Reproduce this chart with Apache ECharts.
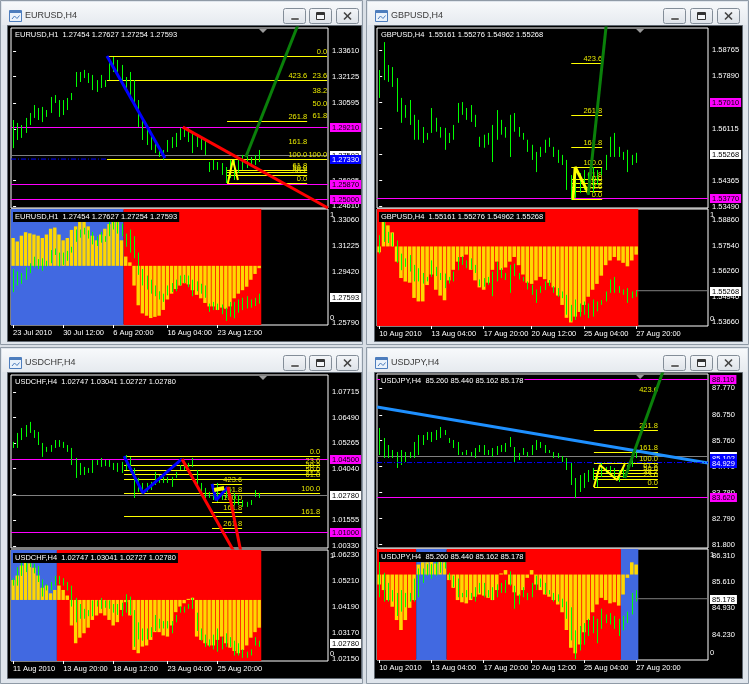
<!DOCTYPE html>
<html>
<head>
<meta charset="utf-8">
<script src="https://cdn.jsdelivr.net/npm/echarts@6/dist/echarts.min.js"></script>
<style>
html,body{margin:0;padding:0;background:#d9dfe6;overflow:hidden;}
#chart{width:749px;height:684px;}
</style>
</head>
<body>
<div id="chart"></div>
<script>
// ================= DATA =================
// ---- EURUSD ----
const EUR_HIGH = [1.2960,1.2943,1.2931,1.2972,1.3001,1.3047,1.3030,1.3036,1.3018,1.3094,
 1.3105,1.3076,1.3076,1.3088,1.3117,1.3239,1.3239,1.3251,1.3233,1.3222,
 1.3192,1.3222,1.3192,1.3309,1.3326,1.3309,1.3280,1.3210,1.3239,1.3192,
 1.3076,1.2960,1.2914,1.2885,1.2844,1.2803,1.2786,1.2844,1.2861,1.2885,
 1.2914,1.2919,1.2914,1.2885,1.2873,1.2856,1.2844,1.2716,1.2728,1.2716,
 1.2710,1.2687,1.2728,1.2728,1.2745,1.2757,1.2768,1.2745,1.2757,1.2786];
const EUR_LOW = [1.2797,1.2844,1.2856,1.2885,1.2931,1.2972,1.2960,1.2948,1.2978,1.3001,
 1.3059,1.2978,1.2989,1.3018,1.3076,1.3152,1.3181,1.3204,1.3175,1.3134,
 1.3123,1.3146,1.3152,1.3192,1.3239,1.3210,1.3192,1.3117,1.3076,1.3036,
 1.2919,1.2844,1.2815,1.2786,1.2768,1.2745,1.2728,1.2774,1.2797,1.2803,
 1.2844,1.2861,1.2832,1.2768,1.2803,1.2786,1.2757,1.2658,1.2670,1.2670,
 1.2641,1.2594,1.2623,1.2612,1.2652,1.2670,1.2681,1.2687,1.2699,1.2716];
const EUR_OSC = [0.75,0.72,0.77,0.80,0.79,0.78,0.77,0.75,0.78,0.83,
 0.84,0.78,0.73,0.75,0.82,0.85,0.89,0.91,0.85,0.77,
 0.73,0.78,0.83,0.87,0.89,0.89,0.73,0.59,0.54,0.34,
 0.17,0.10,0.08,0.06,0.07,0.08,0.13,0.22,0.27,0.31,
 0.34,0.36,0.35,0.30,0.26,0.23,0.19,0.16,0.16,0.13,
 0.15,0.14,0.16,0.23,0.27,0.30,0.33,0.39,0.44,0.49];
const EUR_OSC_MID = 0.51;
const EUR_REGIME = [[0,26,'B'],[27,59,'R']];
const EUR_TICKS = [1.33610,1.32125,1.30595,1.29080,1.27580,1.26085,1.24610];
const EUR_LOW_TICKS = [1.33060,1.31225,1.29420,1.27605,1.25790];
const EUR_XLABELS = ['23 Jul 2010','30 Jul 12:00','6 Aug 20:00','16 Aug 04:00','23 Aug 12:00'];
const EUR_XLABEL_IDX = [0,12,24,37,49];
const EUR_FIB = [
 [1.3332,22.5,75.3,'0.0',1],[1.3192,22.5,75.3,'23.6',1],[1.3192,51.3,70.5,'423.6',0],
 [1.3105,70.7,75.3,'38.2',0],[1.3030,70.7,75.3,'50.0',0],[1.2960,70.7,75.3,'61.8',0],
 [1.2954,51.3,70.5,'261.8',1],[1.2809,51.3,70.5,'161.8',0],
 [1.2734,22.5,75.3,'100.0',1],[1.2734,51.3,70.5,'100.0',0],
 [1.2670,51.3,70.5,'61.8',1],[1.2658,51.3,70.5,'50.0',1],[1.2641,51.3,70.5,'38.2',1],[1.2594,51.3,70.5,'0.0',1]];
const EUR_LEVELS = [1.29210,1.25870,1.25000];
const EUR_CLOSE = 1.27593;
const EUR_BLUE_TAGS = [1.27330];
const EUR_BLUE_DASH = [[-0.5,1.2733],[22.5,1.2733]];
const EUR_BLUE_TREND = [[22.5,1.3332],[36.4,1.2739]];
const EUR_RED_TREND = [[40.7,1.2919],[75.5,1.2449]];
const EUR_YELLOW_SWING = [[51.5,1.2594],[52.7,1.2728],[53.9,1.2612]];
const EUR_GREEN_TREND = [[55.8,1.2745],[69.7,1.3599]];

// ---- GBPUSD ----
const GBP_HIGH = [1.5809,1.5903,1.5826,1.5819,1.5782,1.5715,1.5691,1.5708,1.5658,1.5641,
 1.5617,1.5597,1.5681,1.5648,1.5617,1.5614,1.5597,1.5624,1.5698,1.5701,
 1.5681,1.5691,1.5658,1.5584,1.5591,1.5597,1.5624,1.5674,1.5641,1.5617,
 1.5658,1.5664,1.5617,1.5597,1.5574,1.5557,1.5533,1.5550,1.5574,1.5581,
 1.5550,1.5540,1.5523,1.5506,1.5455,1.5482,1.5462,1.5472,1.5462,1.5482,
 1.5472,1.5479,1.5523,1.5584,1.5597,1.5550,1.5533,1.5540,1.5523,1.5530];
const GBP_LOW = [1.5715,1.5775,1.5769,1.5752,1.5668,1.5631,1.5648,1.5624,1.5574,1.5574,
 1.5563,1.5574,1.5597,1.5601,1.5581,1.5540,1.5563,1.5574,1.5631,1.5658,
 1.5641,1.5634,1.5617,1.5550,1.5547,1.5557,1.5499,1.5574,1.5591,1.5581,
 1.5516,1.5601,1.5584,1.5574,1.5533,1.5506,1.5465,1.5516,1.5530,1.5550,
 1.5516,1.5496,1.5489,1.5405,1.5371,1.5378,1.5395,1.5405,1.5388,1.5395,
 1.5422,1.5455,1.5472,1.5516,1.5516,1.5516,1.5506,1.5465,1.5489,1.5496];
const GBP_OSC = [0.63,0.89,0.86,0.80,0.55,0.41,0.38,0.37,0.24,0.21,
 0.21,0.35,0.44,0.31,0.26,0.22,0.39,0.48,0.55,0.59,
 0.61,0.48,0.39,0.33,0.31,0.37,0.48,0.55,0.48,0.50,
 0.55,0.59,0.52,0.44,0.37,0.36,0.39,0.42,0.40,0.37,
 0.33,0.26,0.18,0.07,0.03,0.08,0.12,0.18,0.25,0.31,
 0.36,0.43,0.52,0.56,0.59,0.56,0.54,0.51,0.56,0.61];
const GBP_OSC_MID = 0.68;
const GBP_REGIME = [[0,59,'R']];
const GBP_TICKS = [1.58765,1.57890,1.57015,1.56115,1.55240,1.54365,1.53490];
const GBP_LOW_TICKS = [1.58860,1.57540,1.56260,1.54940,1.53660];
const GBP_XLABELS = ['10 Aug 2010','13 Aug 04:00','17 Aug 20:00','20 Aug 12:00','25 Aug 04:00','27 Aug 20:00'];
const GBP_XLABEL_IDX = [0,12,24,35,47,59];
const GBP_FIB = [
 [1.5831,44.1,51.2,'423.6',1],[1.5657,44.1,51.2,'261.8',1],[1.5550,44.1,51.2,'161.8',1],
 [1.5482,44.1,51.2,'100.0',1],[1.5441,44.1,51.2,'61.8',1],[1.5428,44.1,51.2,'50.0',1],
 [1.5415,44.1,51.2,'38.2',1],[1.5400,44.1,51.2,'23.6',1],[1.5374,44.1,51.2,'0.0',1]];
const GBP_LEVELS = [1.53770];
const GBP_TAG_ONLY = [1.57010];
const GBP_CLOSE = 1.55268;
const GBP_YELLOW_SWING = [[44.5,1.5374],[45.0,1.5482],[48.0,1.5395]];
const GBP_GREEN_TREND = [[48.0,1.5388],[52.5,1.6011]];

// ---- USDCHF ----
const CHF_HIGH = [1.0532,1.0575,1.0599,1.0613,1.0628,1.0589,1.0580,1.0527,1.0508,1.0517,
 1.0541,1.0541,1.0532,1.0517,1.0503,1.0455,1.0431,1.0412,1.0407,1.0445,
 1.0445,1.0455,1.0445,1.0445,1.0431,1.0431,1.0436,1.0469,1.0460,1.0407,
 1.0359,1.0335,1.0335,1.0340,1.0388,1.0373,1.0364,1.0364,1.0364,1.0388,
 1.0421,1.0421,1.0431,1.0455,1.0397,1.0335,1.0311,1.0292,1.0311,1.0335,
 1.0301,1.0316,1.0301,1.0287,1.0277,1.0253,1.0244,1.0253,1.0301,1.0287];
const CHF_LOW = [1.0503,1.0503,1.0541,1.0556,1.0575,1.0551,1.0517,1.0460,1.0484,1.0484,
 1.0503,1.0508,1.0503,1.0484,1.0421,1.0359,1.0373,1.0373,1.0383,1.0383,
 1.0421,1.0412,1.0416,1.0412,1.0397,1.0388,1.0383,1.0397,1.0388,1.0263,
 1.0292,1.0287,1.0292,1.0301,1.0325,1.0335,1.0335,1.0335,1.0316,1.0359,
 1.0397,1.0397,1.0412,1.0412,1.0325,1.0287,1.0263,1.0263,1.0253,1.0244,
 1.0253,1.0263,1.0263,1.0229,1.0229,1.0220,1.0220,1.0229,1.0268,1.0263];
const CHF_OSC = [0.73,0.77,0.86,0.89,0.88,0.84,0.77,0.66,0.68,0.61,
 0.64,0.68,0.64,0.59,0.32,0.16,0.21,0.25,0.30,0.37,
 0.41,0.43,0.41,0.37,0.32,0.35,0.46,0.53,0.41,0.10,
 0.07,0.13,0.14,0.19,0.26,0.26,0.23,0.22,0.32,0.44,
 0.49,0.52,0.56,0.57,0.22,0.19,0.16,0.14,0.14,0.19,
 0.22,0.16,0.12,0.09,0.07,0.10,0.14,0.21,0.26,0.30];
const CHF_OSC_MID = 0.55;
const CHF_REGIME = [[0,10,'B'],[11,59,'R']];
const CHF_TICKS = [1.07715,1.06490,1.05265,1.04040,1.02815,1.01555,1.00330];
const CHF_LOW_TICKS = [1.06230,1.05210,1.04190,1.03170,1.02150];
const CHF_XLABELS = ['11 Aug 2010','13 Aug 20:00','18 Aug 12:00','23 Aug 04:00','25 Aug 20:00'];
const CHF_XLABEL_IDX = [0,12,24,37,49];
const CHF_FIB = [
 [1.0464,26.6,73.6,'0.0',1],[1.0423,26.6,73.6,'23.6',1],[1.0397,26.6,73.6,'38.2',1],
 [1.0376,26.6,73.6,'50.0',1],[1.0354,26.6,73.6,'61.8',1],[1.0287,26.6,73.6,'100.0',1],
 [1.0176,26.6,73.6,'161.8',1],
 [1.0330,47.7,54.9,'423.6',1],[1.0282,47.7,54.9,'61.8',0],[1.0244,47.7,54.9,'100.0',1],
 [1.0196,47.7,54.9,'161.8',1],[1.0119,47.7,54.9,'261.8',1]];
const CHF_LEVELS = [1.04500,1.01000];
const CHF_CLOSE = 1.02780;
const CHF_BLUE_SWING_A = [[26.6,1.0464],[31.1,1.0287],[40.5,1.0450]];
const CHF_BLUE_SWING_B = [[47.7,1.0330],[48.7,1.0253],[51.5,1.0316]];
const CHF_YELLOW_SWING = [[48.2,1.0301],[50.6,1.0311]];
const CHF_RED_TREND_A = [[40.5,1.0450],[54.1,0.9965]];
const CHF_RED_TREND_B = [[51.5,1.0316],[55.0,0.9965]];

// ---- USDJPY ----
const JPY_HIGH = [86.246,85.865,85.598,85.408,85.332,85.408,85.332,85.332,85.713,85.979,
 85.979,86.094,86.094,86.170,86.284,86.170,85.865,85.789,85.713,85.332,
 85.408,85.332,85.484,85.598,85.598,85.408,85.484,85.560,85.598,85.675,
 85.903,85.522,85.294,85.484,85.332,85.598,85.789,85.713,85.598,85.408,
 85.332,85.294,85.179,85.103,84.951,84.341,84.455,84.532,84.646,84.722,
 84.646,84.913,84.760,84.798,84.722,84.646,84.722,84.836,85.332,85.408];
const JPY_LOW = [85.217,85.103,85.103,85.103,84.722,84.836,84.951,85.103,85.103,85.217,
 85.598,85.789,85.713,85.789,85.865,85.979,85.675,85.484,85.217,85.217,
 85.217,85.179,85.103,85.332,85.217,85.217,85.141,85.217,85.332,85.332,
 85.522,84.913,85.027,85.217,85.141,85.217,85.408,85.484,85.294,85.294,
 85.103,85.103,84.951,84.646,84.074,83.579,83.808,83.960,84.189,84.265,
 83.998,84.379,84.532,84.494,84.379,84.189,84.341,84.532,84.760,85.103];
const JPY_OSC = [0.68,0.63,0.54,0.48,0.36,0.27,0.36,0.47,0.54,0.86,
 0.88,0.88,0.90,0.87,0.92,0.88,0.72,0.65,0.54,0.52,
 0.51,0.54,0.57,0.59,0.58,0.56,0.54,0.63,0.78,0.81,
 0.68,0.61,0.58,0.63,0.74,0.81,0.68,0.63,0.59,0.57,
 0.54,0.50,0.43,0.27,0.11,0.06,0.14,0.25,0.36,0.43,
 0.50,0.56,0.54,0.51,0.52,0.49,0.59,0.74,0.88,0.86];
const JPY_OSC_MID = 0.77;
const JPY_REGIME = [[0,8,'R'],[9,15,'B'],[16,55,'R'],[56,59,'B']];
const JPY_TICKS = [87.770,86.750,85.760,84.770,83.780,82.790,81.800];
const JPY_LOW_TICKS = [86.310,85.610,84.930,84.230,83.550];
const JPY_XLABELS = ['10 Aug 2010','13 Aug 04:00','17 Aug 20:00','20 Aug 12:00','25 Aug 04:00','27 Aug 20:00'];
const JPY_XLABEL_IDX = [0,12,24,35,47,59];
const JPY_FIB = [
 [87.541,49.3,64.0,'423.6',0],[86.170,49.3,64.0,'261.8',1],[85.332,49.3,64.0,'161.8',1],
 [84.913,49.3,64.0,'100.0',1],[84.646,49.3,64.0,'61.8',1],[84.532,49.3,64.0,'50.0',1],
 [84.417,49.3,64.0,'38.2',1],[84.303,49.3,64.0,'23.6',1],[83.998,49.3,64.0,'0.0',1]];
const JPY_LEVELS = [88.110,83.620];
const JPY_CLOSE = 85.178;
const JPY_BLUE_TAGS = [85.102,84.929];
const JPY_BLUE_DASH = [[-0.5,84.929],[75.5,84.929]];
const JPY_BLUE_TREND = [[-0.5,87.046],[75.5,84.913]];
const JPY_YELLOW_SWING = [[49.3,83.998],[50.7,84.836],[54.6,84.265],[56.4,84.875]];
const JPY_GREEN_TREND = [[56.4,84.341],[66.1,88.837]];

// ================= LAYOUT / STYLE =================
const FONT = '"Liberation Sans", Arial, sans-serif';
const FS = 7.5;
const SLOTS = 76;
const GRIDS = [
 {left:11, top:28, width:317, height:180},
 {left:11, top:209, width:317, height:116},
 {left:377, top:28, width:331, height:180},
 {left:377, top:209, width:331, height:117},
 {left:11, top:375, width:317, height:173},
 {left:11, top:550, width:317, height:111},
 {left:377, top:374, width:331, height:174},
 {left:377, top:549, width:331, height:111}
];
const WINDOWS = [
 {x:0, y:0, w:363, h:345, title:'EURUSD,H4', btn:[283,309,336], area:[8,26,353,315]},
 {x:366, y:0, w:383, h:345, title:'GBPUSD,H4', btn:[663,690,717], area:[375,26,367,315]},
 {x:0, y:347, w:363, h:337, title:'USDCHF,H4', btn:[283,309,336], area:[8,373,353,305]},
 {x:366, y:347, w:383, h:337, title:'USDJPY,H4', btn:[663,690,717], area:[375,373,367,305]}
];

const CH = [
 {high:EUR_HIGH, low:EUR_LOW, osc:EUR_OSC, mid:EUR_OSC_MID, regime:EUR_REGIME, ticks:EUR_TICKS, lowTicks:EUR_LOW_TICKS,
  d:5, mainRange:[1.24488,1.34946], lowRange:[1.25649,1.33838], xl:EUR_XLABELS, xi:EUR_XLABEL_IDX, fib:EUR_FIB,
  levels:EUR_LEVELS, tagOnly:[], close:EUR_CLOSE, blueTags:EUR_BLUE_TAGS, bid:true, lowBid:false,
  header:'EURUSD,H1  1.27454 1.27627 1.27254 1.27593',
  lines:[{pts:EUR_BLUE_DASH,c:'#0000ff',w:1,dash:[5,2,1,2]},{pts:EUR_BLUE_TREND,c:'#0000ff',w:3},{pts:EUR_RED_TREND,c:'#ff0000',w:3},
         {pts:EUR_YELLOW_SWING,c:'#ffff00',w:2},{pts:EUR_GREEN_TREND,c:'#0a800a',w:3}]},
 {high:GBP_HIGH, low:GBP_LOW, osc:GBP_OSC, mid:GBP_OSC_MID, regime:GBP_REGIME, ticks:GBP_TICKS, lowTicks:GBP_LOW_TICKS,
  d:5, mainRange:[1.53440,1.59506], lowRange:[1.53475,1.59419], xl:GBP_XLABELS, xi:GBP_XLABEL_IDX, fib:GBP_FIB,
  levels:GBP_LEVELS, tagOnly:GBP_TAG_ONLY, close:GBP_CLOSE, blueTags:[], bid:false, lowBid:true,
  header:'GBPUSD,H4  1.55161 1.55276 1.54962 1.55268',
  lines:[{pts:GBP_YELLOW_SWING,c:'#ffff00',w:3},{pts:GBP_GREEN_TREND,c:'#0a800a',w:3}]},
 {high:CHF_HIGH, low:CHF_LOW, osc:CHF_OSC, mid:CHF_OSC_MID, regime:CHF_REGIME, ticks:CHF_TICKS, lowTicks:CHF_LOW_TICKS,
  d:5, mainRange:[1.00227,1.08531], lowRange:[1.02075,1.06426], xl:CHF_XLABELS, xi:CHF_XLABEL_IDX, fib:CHF_FIB,
  levels:CHF_LEVELS, tagOnly:[], close:CHF_CLOSE, blueTags:[], bid:true, lowBid:false,
  header:'USDCHF,H4  1.02747 1.03041 1.02727 1.02780',
  lines:[{pts:CHF_BLUE_SWING_A,c:'#0000ff',w:3},{pts:CHF_BLUE_SWING_B,c:'#0000ff',w:3},{pts:CHF_YELLOW_SWING,c:'#ffff00',w:4},
         {pts:CHF_RED_TREND_A,c:'#ff0000',w:3},{pts:CHF_RED_TREND_B,c:'#ff0000',w:3}]},
 {high:JPY_HIGH, low:JPY_LOW, osc:JPY_OSC, mid:JPY_OSC_MID, regime:JPY_REGIME, ticks:JPY_TICKS, lowTicks:JPY_LOW_TICKS,
  d:3, mainRange:[81.674,88.303], lowRange:[83.554,86.496], xl:JPY_XLABELS, xi:JPY_XLABEL_IDX, fib:JPY_FIB,
  levels:JPY_LEVELS, tagOnly:[], close:JPY_CLOSE, blueTags:JPY_BLUE_TAGS, bid:true, lowBid:true,
  header:'USDJPY,H4  85.260 85.440 85.162 85.178',
  lines:[{pts:JPY_BLUE_TREND,c:'#1e90ff',w:3},{pts:JPY_BLUE_DASH,c:'#0000ff',w:1,dash:[5,2,1,2]},
         {pts:JPY_YELLOW_SWING,c:'#ffff00',w:2},{pts:JPY_GREEN_TREND,c:'#0a800a',w:3}]}
];

// ================= BUILDERS =================
function xAxis(g, ch) {
  const a = {type:'value', gridIndex:g, min:-0.5, max:SLOTS-0.5, splitLine:{show:false}, axisLine:{show:false}};
  if (!ch) { a.axisLabel = {show:false}; a.axisTick = {show:false}; return a; }
  a.axisTick = {show:true, customValues:ch.xi, length:3, lineStyle:{color:'#fff'}};
  a.axisLabel = {show:true, customValues:ch.xi, color:'#fff', fontSize:FS, fontFamily:FONT, align:'left', margin:4,
    formatter: v => { const k = ch.xi.indexOf(Math.round(v)); return k >= 0 ? ch.xl[k] : ''; }};
  return a;
}
function priceAxis(g, range, ticks, d) {
  return {type:'value', gridIndex:g, position:'right', min:range[0], max:range[1],
    splitLine:{show:false}, axisLine:{show:false},
    axisTick:{show:true, customValues:ticks, length:3, lineStyle:{color:'#fff'}},
    axisLabel:{show:true, customValues:ticks, color:'#fff', fontSize:FS, fontFamily:FONT, margin:4,
      formatter: v => v.toFixed(d)}};
}
function oscAxis(g) {
  return {type:'value', gridIndex:g, position:'right', min:0, max:1, splitLine:{show:false}, axisLine:{show:false},
    axisTick:{show:false},
    axisLabel:{show:true, customValues:[0.06,0.95], color:'#fff', fontSize:FS, fontFamily:FONT, margin:2,
      formatter: v => v > 0.5 ? '1' : '0'}};
}
function barsSeries(g, yi, low, high, z) {
  return {type:'custom', xAxisIndex:g, yAxisIndex:yi, silent:true, animation:false, z,
    data: low.map((l,i)=>[i,l,high[i]]), encode:{x:0, y:[1,2]},
    renderItem(params, api) {
      const lo = api.coord([api.value(0), api.value(1)]), hi = api.coord([api.value(0), api.value(2)]);
      const x = Math.round(lo[0]) + 0.5;
      return {type:'line', shape:{x1:x, y1:lo[1], x2:x, y2:hi[1]}, style:{stroke:'#00ff00', lineWidth:1}};
    }};
}
function regimeSeries(g, yi, runs) {
  return {type:'custom', xAxisIndex:g, yAxisIndex:yi, silent:true, animation:false, z:1,
    data: runs.map(r => [r[0], r[1]]),
    renderItem(params, api) {
      const r = runs[params.dataIndex];
      const a = api.coord([r[0]-0.5, 1]), b = api.coord([r[1]+0.5, 0]);
      return {type:'rect', shape:{x:a[0], y:a[1], width:b[0]-a[0], height:b[1]-a[1]},
        style:{fill: r[2]==='B' ? '#4169e1' : '#ff0000'}};
    }};
}
function oscSeries(g, yi, osc, mid) {
  return {type:'custom', xAxisIndex:g, yAxisIndex:yi, silent:true, animation:false, z:2,
    data: osc.map((v,i)=>[i,v]),
    renderItem(params, api) {
      const i = api.value(0), v = api.value(1);
      const c = api.coord([i, v]), m = api.coord([i, mid]);
      const w = api.size([1,0])[0] * 0.82;
      return {type:'rect', shape:{x:c[0]-w/2, y:Math.min(c[1],m[1]), width:w, height:Math.max(1, Math.abs(c[1]-m[1]))},
        style:{fill:'#ffd700'}};
    }};
}
function fibSeries(g, yi, fibs) {
  return {type:'custom', xAxisIndex:g, yAxisIndex:yi, silent:true, animation:false, z:3,
    data: fibs.map(f => [f[1], f[0]]),
    renderItem(params, api) {
      const f = fibs[params.dataIndex];
      const a = api.coord([f[1], f[0]]), b = api.coord([f[2], f[0]]);
      const y = Math.round(a[1]) + 0.5;
      const ch = [];
      if (f[4]) ch.push({type:'line', shape:{x1:a[0], y1:y, x2:b[0], y2:y}, style:{stroke:'#ffff00', lineWidth:1}});
      ch.push({type:'text', style:{text:f[3], x:b[0], y:y-1, align:'right', verticalAlign:'bottom',
        fill:'#e8e800', font:FS + 'px ' + FONT}});
      return {type:'group', children:ch};
    }};
}
function pathSeries(g, yi, L, z) {
  return {type:'line', xAxisIndex:g, yAxisIndex:yi, data:L.pts, symbol:'none', silent:true, animation:false, z,
    clip:true, lineStyle:{color:L.c, width:L.w, type: L.dash || 'solid'}};
}
// horizontal price levels with their right-hand price tags, drawn through the axis scale
function levelSeries(g, yi, items, d, z) {
  return {type:'custom', xAxisIndex:g, yAxisIndex:yi, silent:true, animation:false, z,
    data: items.map(it => [SLOTS-0.5, it.v]),
    renderItem(params, api) {
      const it = items[params.dataIndex];
      const r = api.coord([SLOTS-0.5, it.v]), l = api.coord([-0.5, it.v]);
      const y = Math.round(r[1]) + 0.5;
      const ch = [];
      if (it.line) ch.push({type:'line', z2:0, shape:{x1:l[0], y1:y, x2:r[0], y2:y}, style:{stroke:it.line, lineWidth:1}});
      ch.push({type:'text', z2:5, style:{text:it.v.toFixed(d), x:r[0]+2, y:y, verticalAlign:'middle',
        fill:it.fg, backgroundColor:it.bg, padding:[1,2,0,2], font:FS + 'px ' + FONT}});
      return {type:'group', children:ch};
    }};
}

const xAxes = [], yAxes = [], series = [];
CH.forEach((ch, k) => {
  const gm = 2*k, gl = 2*k+1;
  xAxes[gm] = xAxis(gm, null);
  xAxes[gl] = xAxis(gl, ch);
  yAxes[gm] = priceAxis(gm, ch.mainRange, ch.ticks, ch.d);
  yAxes[gl] = priceAxis(gl, ch.lowRange, ch.lowTicks, ch.d);
  yAxes[8+k] = oscAxis(gl);
  // main pane
  const lv = [];
  ch.levels.forEach(v => lv.push({v, line:'#ff00ff', bg:'#ff00ff', fg:'#000'}));
  ch.tagOnly.forEach(v => lv.push({v, line:null, bg:'#ff00ff', fg:'#000'}));
  lv.push({v:ch.close, line: ch.bid ? '#808080' : null, bg:'#ffffff', fg:'#000'});
  ch.blueTags.forEach(v => lv.push({v, line:null, bg:'#0000ff', fg:'#fff'}));
  series.push(levelSeries(gm, gm, lv, ch.d, 2));
  series.push(fibSeries(gm, gm, ch.fib));
  series.push(barsSeries(gm, gm, ch.low, ch.high, 4));
  ch.lines.forEach(L => series.push(pathSeries(gm, gm, L, 5)));
  // lower pane
  series.push(regimeSeries(gl, 8+k, ch.regime));
  series.push(oscSeries(gl, 8+k, ch.osc, ch.mid));
  series.push(barsSeries(gl, gl, ch.low, ch.high, 3));
  if (ch.lowBid) series.push(pathSeries(gl, gl, {pts:[[ch.low.length-1, ch.close],[SLOTS-0.5, ch.close]], c:'#808080', w:1}, 4));
  series.push(levelSeries(gl, gl, [{v:ch.close, line:null, bg:'#ffffff', fg:'#000'}], ch.d, 6));
});

// ================= CHROME (window frames) =================
function chrome() {
  const els = [];
  const btnFill = {type:'linear', x:0, y:0, x2:0, y2:1, colorStops:[{offset:0,color:'#f4f6f9'},{offset:1,color:'#dde2e8'}]};
  const barFill = {type:'linear', x:0, y:0, x2:0, y2:1, colorStops:[{offset:0,color:'#f7f9fb'},{offset:1,color:'#e6eaef'}]};
  WINDOWS.forEach(w => {
    els.push({type:'rect', z:-20, silent:true, shape:{x:w.x+0.5, y:w.y+0.5, width:w.w-1, height:w.h-1}, style:{fill:'#dfe5ec', stroke:'#8f9aa6', lineWidth:1}});
    els.push({type:'rect', z:-19, silent:true, shape:{x:w.x+2, y:w.y+2, width:w.w-4, height:23}, style:{fill:barFill}});
    els.push({type:'rect', z:-18, silent:true, shape:{x:w.x+9.5, y:w.y+10.5, width:12, height:11}, style:{fill:'#eaf2fb', stroke:'#4d7dbd', lineWidth:1}});
    els.push({type:'rect', z:-17, silent:true, shape:{x:w.x+10, y:w.y+11, width:11, height:2}, style:{fill:'#4d7dbd'}});
    els.push({type:'polyline', z:-17, silent:true, shape:{points:[[w.x+12,w.y+19],[w.x+14.5,w.y+16],[w.x+17,w.y+18.5],[w.x+19.5,w.y+15.5]]}, style:{stroke:'#4d7dbd', lineWidth:1, fill:null}});
    els.push({type:'text', z:-17, silent:true, style:{text:w.title, x:w.x+25, y:w.y+16, verticalAlign:'middle', fill:'#3a3a3a', font:'9px ' + FONT}});
    w.btn.forEach((bx, k) => {
      const by = w.y + 8;
      els.push({type:'rect', z:-17, silent:true, shape:{x:bx+0.5, y:by+0.5, width:22, height:15, r:2}, style:{fill:btnFill, stroke:'#838d98', lineWidth:1}});
      if (k === 0) els.push({type:'rect', z:-16, silent:true, shape:{x:bx+8, y:by+10, width:8, height:2}, style:{fill:'#333', stroke:'#fff', lineWidth:0.5}});
      if (k === 1) {
        els.push({type:'rect', z:-16, silent:true, shape:{x:bx+7.5, y:by+4.5, width:8, height:7}, style:{fill:'#f4f6f9', stroke:'#333', lineWidth:1}});
        els.push({type:'rect', z:-16, silent:true, shape:{x:bx+8, y:by+5, width:7, height:2}, style:{fill:'#333'}});
      }
      if (k === 2) {
        els.push({type:'line', z:-16, silent:true, shape:{x1:bx+8, y1:by+4.5, x2:bx+15, y2:by+11.5}, style:{stroke:'#444', lineWidth:1.6}});
        els.push({type:'line', z:-16, silent:true, shape:{x1:bx+15, y1:by+4.5, x2:bx+8, y2:by+11.5}, style:{stroke:'#444', lineWidth:1.6}});
      }
    });
    els.push({type:'rect', z:-15, silent:true, shape:{x:w.area[0]-0.5, y:w.area[1]-0.5, width:w.area[2]+1, height:w.area[3]+1}, style:{fill:'#000', stroke:'#5f6770', lineWidth:1}});
  });
  CH.forEach((ch, k) => {
    const gm = GRIDS[2*k], gl = GRIDS[2*k+1];
    const mx = gm.left + gm.width * 0.795;
    els.push({type:'polygon', z:20, silent:true, shape:{points:[[mx-4,gm.top+1],[mx+4,gm.top+1],[mx,gm.top+5]]}, style:{fill:'#9a9a9a'}});
    els.push({type:'text', z:20, silent:true, style:{text:ch.header, x:gm.left+3, y:gm.top+7, verticalAlign:'middle', fill:'#fff', font:FS + 'px ' + FONT, backgroundColor:'#000', padding:[1,1]}});
    els.push({type:'text', z:20, silent:true, style:{text:ch.header, x:gl.left+2, y:gl.top+8, verticalAlign:'middle', fill:'#fff', font:FS + 'px ' + FONT, backgroundColor:'#000', padding:[1,2]}});
  });
  return els;
}

const option = {
  backgroundColor:'#d9dfe6',
  animation:false,
  grid: GRIDS.map(g => Object.assign({show:true, borderColor:'#ffffff', borderWidth:1, backgroundColor:'transparent'}, g)),
  xAxis: xAxes,
  yAxis: yAxes,
  series: series,
  graphic: {elements: chrome()}
};
const chart = echarts.init(document.getElementById('chart'), null, {renderer:'canvas'});
chart.setOption(option);
</script>
</body>
</html>
